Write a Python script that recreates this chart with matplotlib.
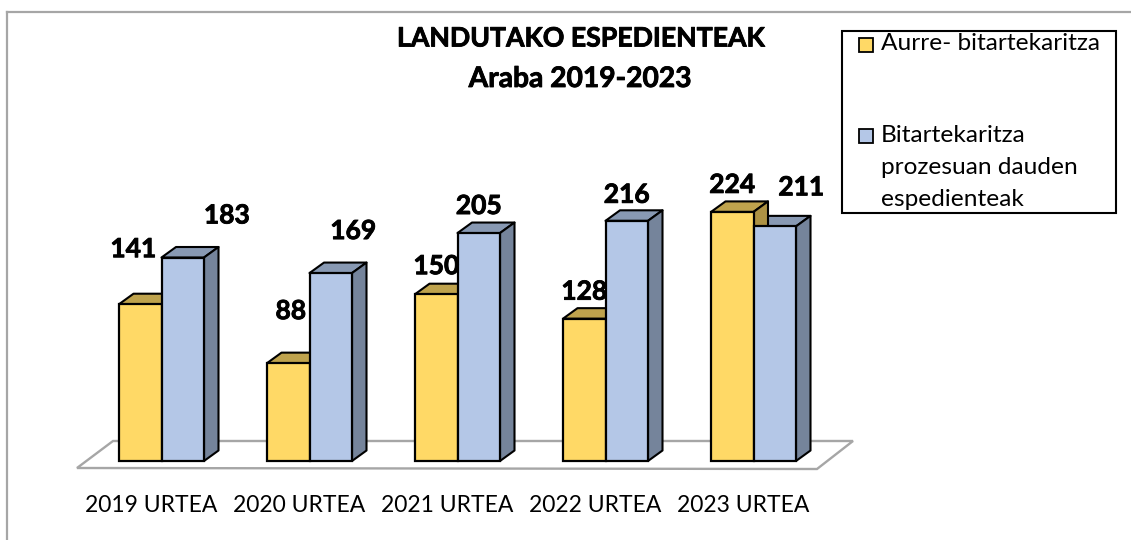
import matplotlib
matplotlib.use("Agg")
import matplotlib.pyplot as plt
from matplotlib.patches import Polygon, Rectangle
import matplotlib.patheffects as pe
import numpy as np

WIDTH = 1131
HEIGHT = 540

# data
years = ["2019 URTEA", "2020 URTEA", "2021 URTEA", "2022 URTEA", "2023 URTEA"]
aurre = [141, 88, 150, 128, 224]
bitartekaritza = [183, 169, 205, 216, 211]

title_lines = ["LANDUTAKO ESPEDIENTEAK", "Araba 2019-2023"]
legend_first = "Aurre- bitartekaritza"
legend_second = ["Bitartekaritza", "prozesuan dauden", "espedienteak"]

# colours
YELLOW = ("#FFD966", "#BFA34D", "#AD9244")
BLUE = ("#B4C7E7", "#8899B3", "#75849B")
GRAY = "#A6A6A6"

plt.rcParams["font.family"] = ["Lato", "DejaVu Sans"]

fig = plt.figure(figsize=(WIDTH / 100, HEIGHT / 100), dpi=100)
ax = fig.add_axes([0, 0, 1, 1])

# scale: one category = 148 px, one case = 1.112 px, baseline at y=461 px
PX_X = 148.0
PX_Y = 1.112
ORIGIN_X = 161.5
ax.set_xlim((0 - ORIGIN_X) / PX_X, (WIDTH - ORIGIN_X) / PX_X)
ax.set_ylim((461 - HEIGHT) / PX_Y, 461 / PX_Y)
ax.axis("off")


def dx(px):
    return px / PX_X


def dy(px):
    return px / PX_Y


def px_pos(x, y):
    # pixel position in the image -> figure fraction
    return x / WIDTH, 1 - y / HEIGHT


bar_w = dx(42.5)
depth_x = dx(14.5)
depth_y = dy(10.5)

# a bit thicker than lato bold, the original numbers are heavy
heavy = [pe.withStroke(linewidth=0.6, foreground="black")]

# outer frame of the chart, only top and left are inside the picture
fig.add_artist(plt.Line2D([px_pos(7, 0)[0], px_pos(7, 0)[0]], [0, px_pos(0, 12)[1]], color=GRAY, lw=1.6))
fig.add_artist(plt.Line2D([px_pos(7, 0)[0], 1], [px_pos(0, 12)[1], px_pos(0, 12)[1]], color=GRAY, lw=1.6))

# floor of the 3d chart
floor = [(dx(77 - ORIGIN_X), dy(461 - 468)), (dx(817 - ORIGIN_X), dy(461 - 469)),
         (dx(853 - ORIGIN_X), dy(461 - 441)), (dx(113 - ORIGIN_X), dy(461 - 441))]
ax.add_patch(Polygon(floor, closed=True, facecolor="white", edgecolor=GRAY, lw=1.7, zorder=1))


def draw_depth(x, value, colors, z):
    # top and right side of a bar
    top = [(x, value), (x + bar_w, value), (x + bar_w + depth_x, value + depth_y), (x + depth_x, value + depth_y)]
    side = [(x + bar_w, 0), (x + bar_w + depth_x, depth_y), (x + bar_w + depth_x, value + depth_y), (x + bar_w, value)]
    ax.add_patch(Polygon(top, closed=True, facecolor=colors[1], edgecolor="black", lw=1.5, zorder=z, joinstyle="round"))
    ax.add_patch(Polygon(side, closed=True, facecolor=colors[2], edgecolor="black", lw=1.5, zorder=z, joinstyle="round"))


x_pos = np.arange(len(years))
for i in x_pos:
    draw_depth(i, bitartekaritza[i], BLUE, 2)
    draw_depth(i - bar_w, aurre[i], YELLOW, 3)

ax.bar(x_pos - bar_w, aurre, width=bar_w, align="edge", color=YELLOW[0], edgecolor="black", lw=1.6, zorder=4)
ax.bar(x_pos, bitartekaritza, width=bar_w, align="edge", color=BLUE[0], edgecolor="black", lw=1.6, zorder=5)

# the labels were moved by hand in the original, offsets in px from the top of the bar
yellow_off = [(-7, 55), (2.5, 52), (0, 28), (0, 27), (0, 27)]
blue_off = [(44, 42), (22.5, 42), (0, 27), (0, 26), (26.5, 39)]
for i in x_pos:
    ax.text(i - bar_w / 2 + dx(yellow_off[i][0]), aurre[i] + dy(yellow_off[i][1]), str(aurre[i]),
            ha="center", va="center", fontsize=19, fontweight="bold", zorder=6, path_effects=heavy)
    ax.text(i + bar_w / 2 + dx(blue_off[i][0]), bitartekaritza[i] + dy(blue_off[i][1]), str(bitartekaritza[i]),
            ha="center", va="center", fontsize=19, fontweight="bold", zorder=6, path_effects=heavy)

# category labels
for i in x_pos:
    ax.text(i - dx(10.5), dy(461 - 505), years[i], ha="center", va="center", fontsize=16.5)

# title
fig.text(*px_pos(580.5, 38.5), title_lines[0], ha="center", va="center", fontsize=19.2, fontweight="bold", path_effects=heavy)
fig.text(*px_pos(580.5, 79), title_lines[1], ha="center", va="center", fontsize=20.3, fontweight="bold", path_effects=heavy)

# legend
x0, y0 = px_pos(842, 213)
x1, y1 = px_pos(1115.5, 31)
fig.add_artist(Rectangle((x0, y0), x1 - x0, y1 - y0, transform=fig.transFigure, facecolor="white",
                         edgecolor="black", lw=1.5, zorder=7))
for py, color in [(45, YELLOW[0]), (135.5, BLUE[0])]:
    xa, ya = px_pos(859, py + 7)
    xb, yb = px_pos(873, py - 7)
    fig.add_artist(Rectangle((xa, ya), xb - xa, yb - ya, transform=fig.transFigure, facecolor=color,
                             edgecolor="black", lw=1.3, zorder=8))
fig.text(*px_pos(881, 44), legend_first, ha="left", va="center", fontsize=17.6, zorder=8)
for py, line in zip([135, 168, 199], legend_second):
    fig.text(*px_pos(881, py), line, ha="left", va="center", fontsize=17.6, zorder=8)

fig.savefig("out.png", dpi=100, facecolor="white")
